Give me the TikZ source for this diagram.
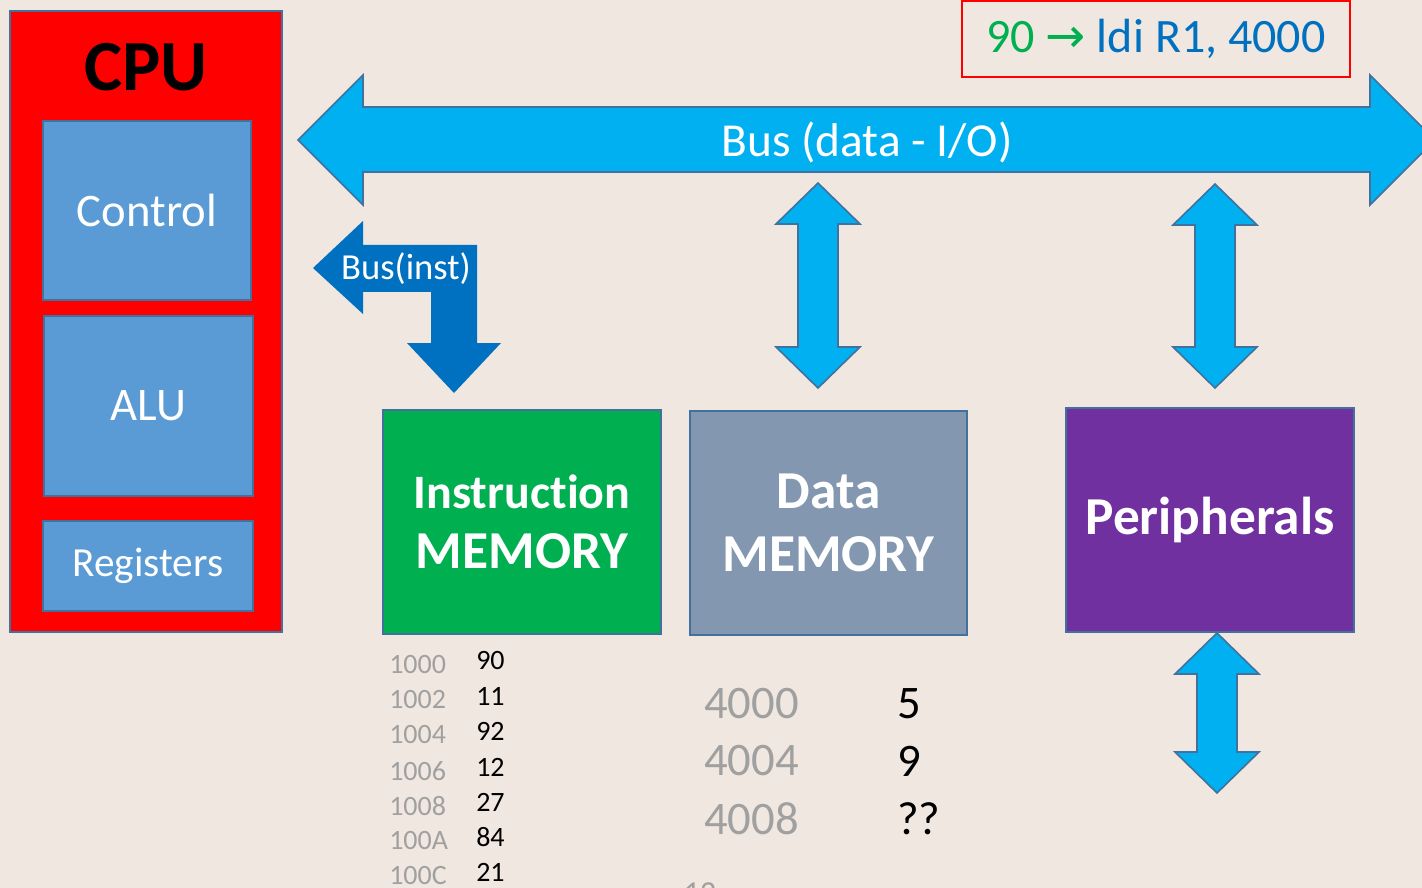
\documentclass[tikz,border=0pt]{standalone}
\usepackage{fontspec}
\setmainfont[Ligatures=NoCommon]{Carlito}
\newfontfamily\symfont{DejaVu Sans}
\definecolor{bgcol}{HTML}{F0E8E0}
\definecolor{edgecol}{HTML}{41719C}
\definecolor{cpured}{HTML}{FF0000}
\definecolor{subblue}{HTML}{5B9BD5}
\definecolor{buslight}{HTML}{00B0F0}
\definecolor{busdark}{HTML}{0070C0}
\definecolor{imgreen}{HTML}{00B050}
\definecolor{dmgray}{HTML}{8497B0}
\definecolor{perpurple}{HTML}{7030A0}
\definecolor{addrgray}{HTML}{A0A0A0}
\begin{document}
\begin{tikzpicture}[x=0.75pt,y=-0.75pt,
  blk/.style={draw=edgecol, line width=1.2pt, inner sep=0pt, text=white, align=center},
  busshape/.style={fill=buslight, draw=edgecol, line width=1.2pt, line join=miter},
  addr/.style={anchor=west, inner sep=0pt, text=addrgray, font=\fontsize{21}{25}\selectfont},
  val/.style={anchor=west, inner sep=0pt, text=black, font=\fontsize{21}{25}\selectfont},
  daddr/.style={anchor=west, inner sep=0pt, text=addrgray, font=\fontsize{35}{42}\selectfont},
  dval/.style={anchor=west, inner sep=0pt, text=black, font=\fontsize{35}{42}\selectfont}]
\fill[bgcol] (0,0) rectangle (1422,888);
\useasboundingbox (0,0) rectangle (1422,888);

% CPU
\node[blk, fill=cpured, minimum width=204pt, minimum height=465.75pt] (cpu) at (146,321.5) {};
\node[text=black, font=\bfseries\fontsize{54}{60}\selectfont, inner sep=0pt] (cputitle) at (146,67) {CPU};
\node[blk, fill=subblue, minimum width=156pt, minimum height=134.25pt, font=\fontsize{35}{42}\selectfont] (control) at (147,210.5) {Control};
\node[blk, fill=subblue, minimum width=156.75pt, minimum height=135pt, font=\fontsize{35}{42}\selectfont] (alu) at (148.5,406) {ALU};
\node[blk, fill=subblue, minimum width=157.5pt, minimum height=67.5pt, font=\fontsize{31}{37}\selectfont] (regs) at (148,566) {Registers};

% Memories and peripherals
\node[blk, fill=imgreen, minimum width=208.5pt, minimum height=168pt, font=\bfseries\fontsize{36}{45}\selectfont] (imem) at (522,522) {Instruction\\{\fontsize{40}{45}\selectfont MEMORY}};
\node[blk, fill=dmgray, minimum width=207.75pt, minimum height=168pt, font=\bfseries\fontsize{40}{47}\selectfont] (dmem) at (828.5,523) {Data\\MEMORY};
\node[blk, fill=perpurple, minimum width=216pt, minimum height=168pt, font=\bfseries\fontsize{40}{46}\selectfont] (periph) at (1210,520) {Peripherals};

% Instruction box annotation
\node[draw=cpured, line width=1pt, minimum width=291pt, minimum height=57pt, inner sep=0pt,
      font=\fontsize{36}{42}\selectfont] (instr) at (1156,39)
  {\textcolor{imgreen}{90 {\symfont\fontsize{36}{42}\selectfont →}} \textcolor{busdark}{ldi R1, 4000}};

% Data bus (double block arrow)
\draw[busshape] (298,140) -- (363,75) -- (363,107) -- (1370,107) -- (1370,75) -- (1435,140)
  -- (1370,205) -- (1370,172) -- (363,172) -- (363,205) -- cycle;
\node[text=white, font=\fontsize{35.5}{42}\selectfont, inner sep=0pt] (buslbl) at (867,142) {Bus (data - I/O)};

% Instruction bus (bent block arrow)
\fill[busdark] (313,268) -- (363,221) -- (363,245) -- (477,245) -- (477,343) -- (501,343)
  -- (454,393) -- (407,343) -- (431,343) -- (431,292) -- (363,292) -- (363,314) -- cycle;
\node[text=white, font=\fontsize{27.5}{33}\selectfont, inner sep=0pt] (ibuslbl) at (406,269) {Bus(inst)};

% Vertical double arrows
\newcommand\vdarrow[3]{%
  \draw[busshape] (#1,#2) -- (#1+42,#2+41) -- (#1+20,#2+41) -- (#1+20,#3-41) -- (#1+42,#3-41)
    -- (#1,#3) -- (#1-42,#3-41) -- (#1-20,#3-41) -- (#1-20,#2+41) -- (#1-42,#2+41) -- cycle;}
\vdarrow{818}{183}{388}
\vdarrow{1215}{184}{388}
\vdarrow{1217}{633}{793}

% Instruction memory contents
\foreach \a/\ay/\v/\vy [count=\i] in {1000/665/90/661, 1002/700/11/696, 1004/735/92/731,
    1006/771/12/767, 1008/806/27/802, 100A/841/84/837, 100C/876/21/872}{
  \node[addr] (a\i) at (389,\ay) {\a};
  \node[val] (v\i) at (476,\vy) {\v};
}

% Data memory contents
\foreach \a/\ay/\v [count=\i] in {4000/704/5, 4004/761/9, 4008/819/??}{
  \node[daddr] (da\i) at (704,\ay) {\a};
  \node[dval] (dv\i) at (897,\ay) {\v};
}

% slide number (cut off)
\node[text=addrgray, font=\fontsize{24}{29}\selectfont, inner sep=0pt] (pagenum) at (700,893) {12};
\end{tikzpicture}
\end{document}
